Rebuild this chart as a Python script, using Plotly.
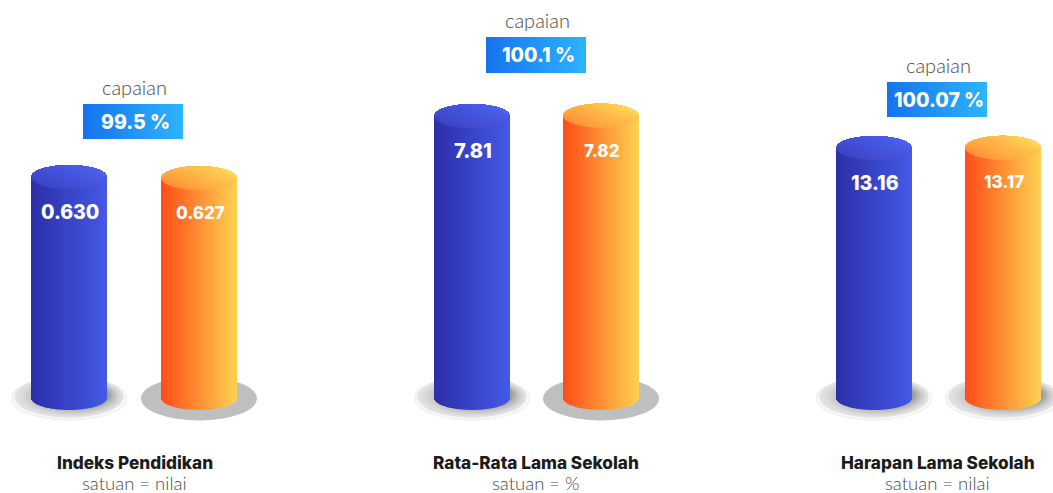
import plotly.graph_objects as go
import numpy as np

# ---- data ----
panel_names = ["Indeks Pendidikan", "Rata-Rata Lama Sekolah", "Harapan Lama Sekolah"]
panel_units = ["satuan = nilai", "satuan = %", "satuan = nilai"]
achievement = ["99.5 %", "100.1 %", "100.07 %"]
series_a = [0.630, 7.81, 13.16]
series_b = [0.627, 7.82, 13.17]
label_a = ["0.630", "7.81", "13.16"]
label_b = ["0.627", "7.82", "13.17"]

# ---- layout constants (pixels) ----
W, H = 1053, 493
BASE_Y = 398
HEIGHT_A = [221, 282, 250]        # pixel height of series_a per panel
CX_A = [69, 472, 874]
CX_B = [199, 601, 1003]
R, RY = 38, 12
PLATE_RX, PLATE_RY, PLATE_Y = 58, 22, 398.5
TEXT_CX = [134.5, 536, 938]
BADGE_L = [83, 486, 887]
BADGE_T = [104, 37, 82]
BADGE_B = [139, 73, 117]
CAP_TEXT_Y = [87, 20, 65]
LABEL_Y_A = [212, 151, 183]
LABEL_Y_B = [213, 151, 182]
LABEL_SIZE_A = [19.5, 20, 19.5]
LABEL_SIZE_B = [17, 17, 17]
FLAT_PLATE_B = [True, True, False]


def mix(c1, c2, t):
    t = min(max(t, 0), 1)
    return "rgb(%d,%d,%d)" % tuple(round(a + (b - a) * t) for a, b in zip(c1, c2))


BODY_A = ((45, 46, 168), (67, 90, 230))
CAP_A = ((58, 66, 195), (78, 98, 238))
BODY_B = ((255, 76, 24), (255, 210, 80))
CAP_B = ((255, 140, 55), (255, 218, 84))

fig = go.Figure()
CAP_ROWS = 8


def cylinder(cx, value, k, axis, body, cap):
    offs = np.arange(-R, R) + 0.5
    t = (offs + R) / (2 * R)
    half = RY * np.sqrt(np.clip(1 - (offs / R) ** 2, 0, 1)) * k
    xs = cx + offs
    fig.add_bar(x=xs, y=value + half, base=-half, width=1, yaxis=axis, showlegend=False,
                marker=dict(color=[mix(*body, v) for v in t], line_width=0), hoverinfo="skip")
    # cap: each band runs up to the rim and the next band paints over it, so no seams show
    for r in range(CAP_ROWS):
        f0 = -1 + 2 * r / CAP_ROWS
        fm = f0 + 1 / CAP_ROWS
        fig.add_bar(x=xs, y=(1 - f0) * half, base=value + f0 * half, width=1, yaxis=axis, showlegend=False,
                    marker=dict(color=[mix(*cap, 0.72 * v + 0.14 + 0.22 * fm) for v in t], line_width=0),
                    hoverinfo="skip")


layout_axes = {}
for i in range(3):
    k = series_a[i] / HEIGHT_A[i]   # value per pixel
    axis_id = "y" if i == 0 else f"y{i + 1}"
    key = "yaxis" if i == 0 else f"yaxis{i + 1}"
    spec = dict(range=[-(H - BASE_Y) * k, BASE_Y * k], visible=False, fixedrange=True, domain=[0, 1])
    if i:
        spec.update(overlaying="y")
    layout_axes[key] = spec
    cylinder(CX_A[i], series_a[i], k, axis_id, BODY_A, CAP_A)
    cylinder(CX_B[i], series_b[i], k, axis_id, BODY_B, CAP_B)

# pixel axis for badges and text
layout_axes["yaxis4"] = dict(range=[H, 0], visible=False, fixedrange=True, domain=[0, 1], overlaying="y")
for i in range(3):
    xs = BADGE_L[i] + np.arange(100) + 0.5
    fig.add_bar(x=xs, y=[BADGE_B[i] - BADGE_T[i]] * 100, base=BADGE_T[i], width=1, yaxis="y4", showlegend=False,
                marker=dict(color=[mix((22, 115, 238), (44, 180, 255), v / 99) for v in range(100)], line_width=0),
                hoverinfo="skip")

# plates
shapes = []


def ellipse(cx, rx, ry, color, cy=PLATE_Y):
    shapes.append(dict(type="circle", xref="x", yref="y4", x0=cx - rx, x1=cx + rx, y0=cy - ry, y1=cy + ry,
                       fillcolor=color, line_width=0, layer="below"))


def gradient_plate(cx):
    ellipse(cx, 58, 22, "#e2e2e2")
    ellipse(cx, 58, 21.5, "#f3f3f3", PLATE_Y + 0.5)
    ellipse(cx + 0.5, 56, 20, "#fafafa", PLATE_Y)
    # dish: darkening towards the cylinder, and towards its right side
    for r in np.linspace(0.94, 0.55, 20):
        u = (0.94 - r) / 0.39
        ellipse(cx + u * 8, PLATE_RX * r, PLATE_RY * r, mix((226, 226, 226), (155, 155, 155), u ** 1.4),
                PLATE_Y - 1.5 - u * 2)


for i in range(3):
    gradient_plate(CX_A[i])
    if FLAT_PLATE_B[i]:
        ellipse(CX_B[i], PLATE_RX, PLATE_RY, "#bfbfbf")
    else:
        gradient_plate(CX_B[i])

# text
ann = []


def text(x, y, s, size, color, family, weight):
    ann.append(dict(x=x, y=y, xref="x", yref="y4", text=s, showarrow=False, xanchor="center", yanchor="middle",
                    font=dict(size=size, color=color, family=family, weight=weight)))


for i in range(3):
    text(BADGE_L[i] + 51.5, CAP_TEXT_Y[i], "capaian", 20, "#4a4a4a", "Lato", 300)
    text(BADGE_L[i] + 52, (BADGE_T[i] + BADGE_B[i]) / 2, achievement[i], 19.5, "white", "Inter", 800)
    text(CX_A[i] + 0.5, LABEL_Y_A[i], label_a[i], LABEL_SIZE_A[i], "white", "Inter", 800)
    text(CX_B[i] + 1, LABEL_Y_B[i], label_b[i], LABEL_SIZE_B[i], "white", "Inter", 800)
    text(TEXT_CX[i], 462.5, panel_names[i], 17.2, "#1c1c1c", "Inter", 800)
    text(TEXT_CX[i] - 0.5, 483, panel_units[i], 18.5, "#4a4a4a", "Lato", 300)

fig.update_layout(width=W, height=H, margin=dict(l=0, r=0, t=0, b=0), barmode="overlay",
                  paper_bgcolor="white", plot_bgcolor="white", showlegend=False,
                  xaxis=dict(range=[0, W], visible=False, fixedrange=True),
                  shapes=shapes, annotations=ann, **layout_axes)

fig.write_html("out.html", config=dict(displayModeBar=False),
               post_script="document.body.style.margin='0';document.body.style.overflow='hidden';")
